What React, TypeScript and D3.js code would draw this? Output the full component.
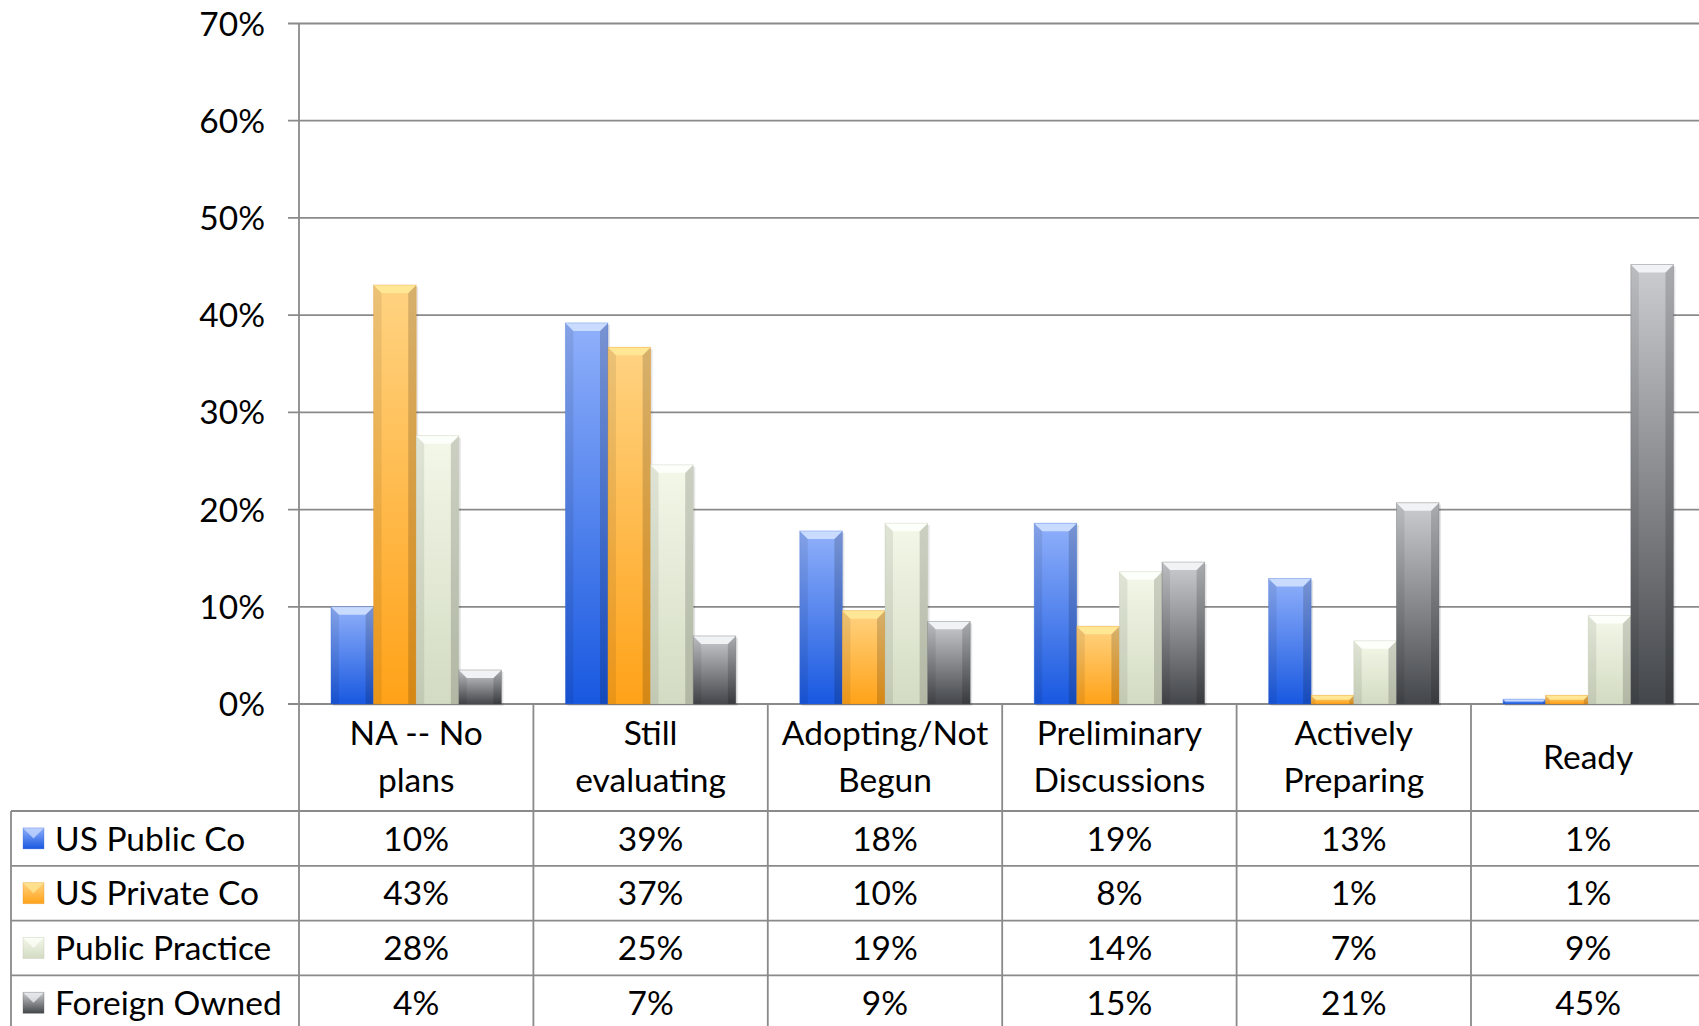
import React from "react";
import * as d3 from "d3";

const categoryLines: string[][] = [
  ["NA -- No", "plans"],
  ["Still", "evaluating"],
  ["Adopting/Not", "Begun"],
  ["Preliminary", "Discussions"],
  ["Actively", "Preparing"],
  ["Ready"],
];

const seriesNames = ["US Public Co", "US Private Co", "Public Practice", "Foreign Owned"];

const usPublicCo = [10.0, 39.2, 17.8, 18.6, 12.9, 0.5];
const usPrivateCo = [43.1, 36.7, 9.6, 8.0, 0.9, 0.9];
const publicPractice = [27.6, 24.6, 18.6, 13.6, 6.5, 9.1];
const foreignOwned = [3.5, 7.0, 8.5, 14.6, 20.7, 45.2];

const seriesValues = [usPublicCo, usPrivateCo, publicPractice, foreignOwned];

const yTicks = [0, 10, 20, 30, 40, 50, 60, 70];

const seriesColors = [
  { top: "#90b0fa", bottom: "#1858e0", bevel: "#c9dbff", edge: "#3b6fd8" },
  { top: "#ffd382", bottom: "#ffa218", bevel: "#ffe795", edge: "#e08f1a" },
  { top: "#f3f8e8", bottom: "#d3dbc3", bevel: "#fdfffa", edge: "#b9c1aa" },
  { top: "#cbcdd0", bottom: "#43464a", bevel: "#f1f2f3", edge: "#5a5d61" },
];

const W = 1699;
const H = 1026;
const FONT = "Lato, 'Open Sans', sans-serif";
const FS = 33.5;
const LINE = "#8a8a8a";

export default function App() {
  const plotLeft = 299;
  const catStep = 234.4;
  const plotRight = plotLeft + catStep * categoryLines.length;
  const plotTop = 23.5;
  const plotBottom = 704;

  const x0 = d3
    .scaleBand<number>()
    .domain(d3.range(categoryLines.length))
    .range([plotLeft, plotRight])
    .paddingInner(0)
    .paddingOuter(0);
  const x1 = d3
    .scaleBand<number>()
    .domain(d3.range(seriesNames.length))
    .range([0, x0.bandwidth()])
    .paddingInner(0)
    .paddingOuter(0.75);
  const y = d3.scaleLinear().domain([0, 70]).range([plotBottom, plotTop]);

  const tableTop = 811;
  const rowH = 54.8;
  const tableLeft = 11;
  const tableBottom = tableTop + rowH * 4;

  const bars: React.ReactNode[] = [];
  seriesValues.forEach((vals, s) => {
    vals.forEach((v, c) => {
      const x = (x0(c) as number) + (x1(s) as number);
      const w = x1.bandwidth();
      const yt = y(v);
      const yb = y(0);
      const h = yb - yt;
      const b = Math.max(0.5, Math.min(8, h / 2, w / 5));
      bars.push(
        <g key={`b-${s}-${c}`}>
          <rect x={x + 2} y={yt + 2} width={w} height={h} fill="#000" opacity={0.1} />
          <rect x={x} y={yt} width={w} height={h} fill={`url(#grad-${s})`} />
          <polygon
            points={`${x},${yt} ${x + b},${yt + b} ${x + b},${yb} ${x},${yb}`}
            fill="#000"
            opacity={0.08}
          />
          <polygon
            points={`${x + w},${yt} ${x + w - b},${yt + b} ${x + w - b},${yb} ${x + w},${yb}`}
            fill="#000"
            opacity={0.16}
          />
          <polygon
            points={`${x},${yt} ${x + w},${yt} ${x + w - b},${yt + b} ${x + b},${yt + b}`}
            fill={seriesColors[s].bevel}
          />
          <rect x={x} y={yt} width={w} height={h} fill="none" stroke={seriesColors[s].edge} strokeOpacity={0.4} strokeWidth={0.8} />
        </g>
      );
    });
  });

  return (
    <svg
      width={W}
      height={H}
      viewBox={`0 0 ${W} ${H}`}
      style={{ position: "absolute", left: 0, top: 0, background: "#fff" }}
    >
      <defs>
        {seriesColors.map((c, i) => (
          <linearGradient key={i} id={`grad-${i}`} x1="0" y1="0" x2="0" y2="1">
            <stop offset="0" stopColor={c.top} />
            <stop offset="1" stopColor={c.bottom} />
          </linearGradient>
        ))}
      </defs>

      {/* gridlines */}
      {yTicks.map((t) => (
        <line key={`g${t}`} x1={288} x2={plotRight} y1={y(t)} y2={y(t)} stroke={LINE} strokeWidth={1.8} />
      ))}
      {/* y axis */}
      <line x1={plotLeft} x2={plotLeft} y1={plotTop} y2={tableBottom + 60} stroke={LINE} strokeWidth={1.8} />
      {yTicks.map((t) => (
        <text
          key={`t${t}`}
          x={265}
          y={y(t)}
          dy="0.36em"
          textAnchor="end"
          fontFamily={FONT}
          fontSize={FS}
          fill="#000"
        >
          {`${t}%`}
        </text>
      ))}

      {bars}

      {/* table lines */}
      {d3.range(1, categoryLines.length + 1).map((i) => (
        <line
          key={`v${i}`}
          x1={plotLeft + i * catStep}
          x2={plotLeft + i * catStep}
          y1={plotBottom}
          y2={tableBottom + 60}
          stroke={LINE}
          strokeWidth={1.8}
        />
      ))}
      <line x1={tableLeft} x2={tableLeft} y1={tableTop} y2={tableBottom + 60} stroke={LINE} strokeWidth={1.8} />
      {d3.range(0, 5).map((r) => (
        <line
          key={`h${r}`}
          x1={tableLeft}
          x2={plotRight}
          y1={tableTop + r * rowH}
          y2={tableTop + r * rowH}
          stroke={LINE}
          strokeWidth={1.8}
        />
      ))}

      {/* category labels */}
      {categoryLines.map((lines, c) => {
        const cx = (x0(c) as number) + x0.bandwidth() / 2;
        const baselines = lines.length === 2 ? [745, 792] : [769];
        return lines.map((ln, k) => (
          <text
            key={`c${c}-${k}`}
            x={cx}
            y={baselines[k]}
            textAnchor="middle"
            fontFamily={FONT}
            fontSize={FS}
            fill="#000"
          >
            {ln}
          </text>
        ));
      })}

      {/* legend + values */}
      {seriesNames.map((name, s) => {
        const top = tableTop + s * rowH;
        const sx = 23;
        const ss = 21;
        const sy = top + rowH / 2 - ss / 2;
        return (
          <g key={`r${s}`}>
            <rect x={sx} y={sy} width={ss} height={ss} fill={`url(#grad-${s})`} />
            <polygon
              points={`${sx},${sy} ${sx + ss},${sy} ${sx + ss / 2},${sy + ss / 2}`}
              fill={seriesColors[s].bevel}
              opacity={0.75}
            />
            <rect x={sx} y={sy} width={ss} height={ss} fill="none" stroke={seriesColors[s].edge} strokeOpacity={0.4} strokeWidth={0.8} />
            <text x={55} y={top + 39.5} fontFamily={FONT} fontSize={FS} fill="#000">
              {name}
            </text>
            {seriesValues[s].map((v, c) => (
              <text
                key={`val${s}-${c}`}
                x={(x0(c) as number) + x0.bandwidth() / 2}
                y={top + 39.5}
                textAnchor="middle"
                fontFamily={FONT}
                fontSize={FS}
                fill="#000"
              >
                {`${Math.round(v)}%`}
              </text>
            ))}
          </g>
        );
      })}
    </svg>
  );
}
